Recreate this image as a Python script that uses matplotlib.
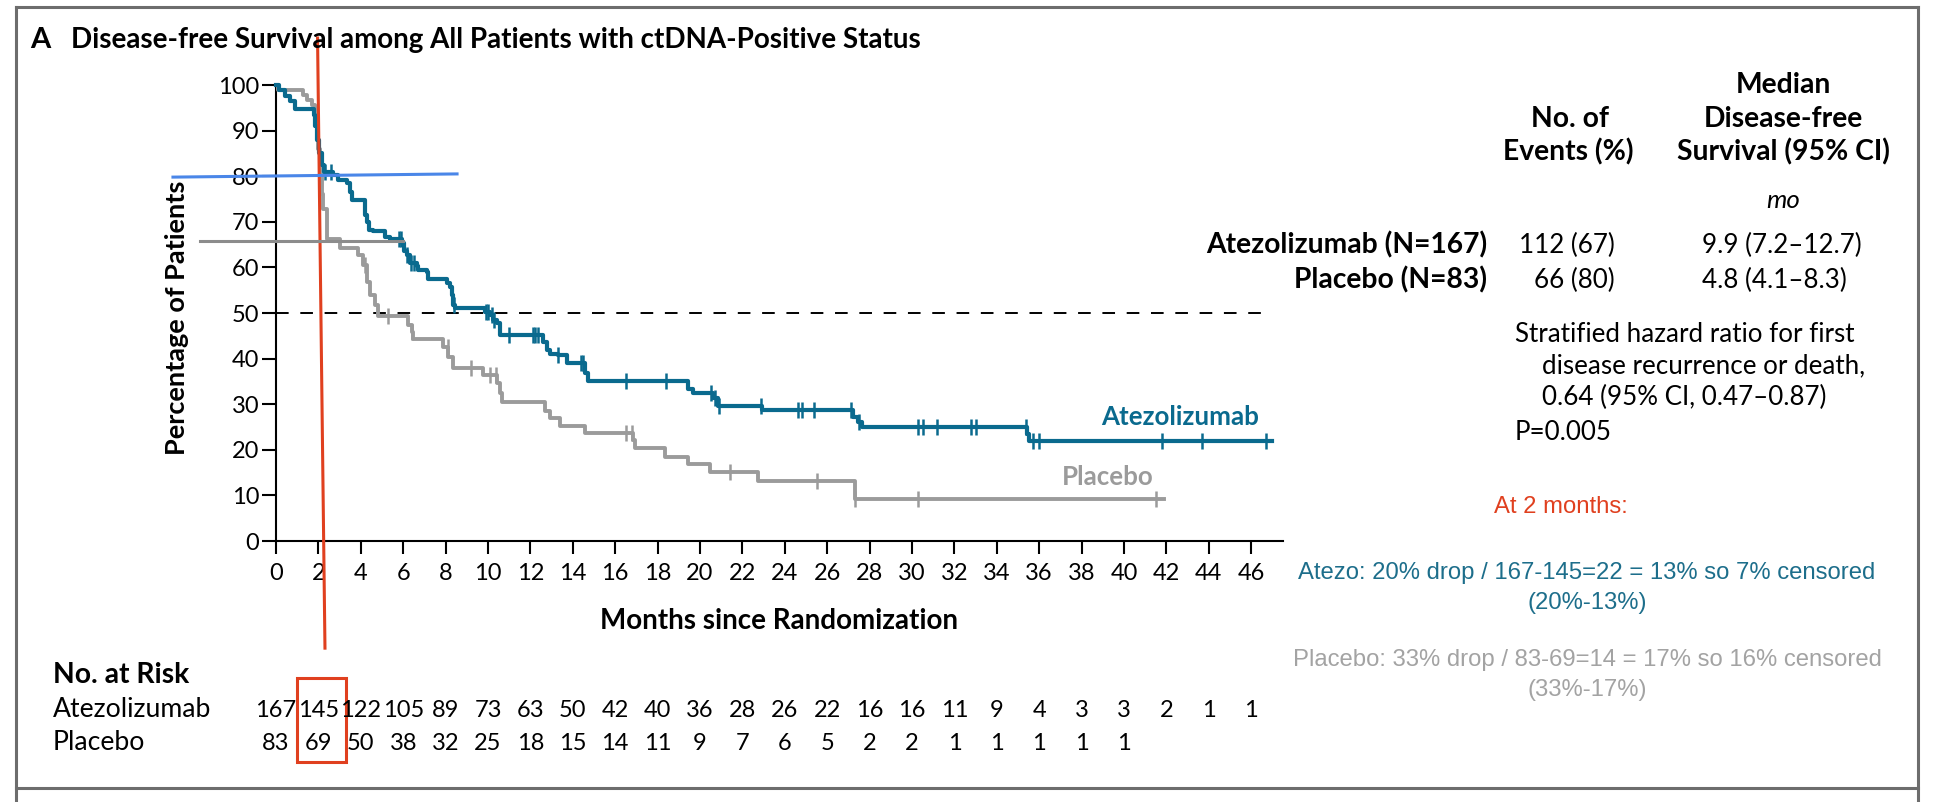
import numpy as np
import matplotlib
matplotlib.use('Agg')
import matplotlib.pyplot as plt
import matplotlib.transforms as mtransforms
from matplotlib.lines import Line2D
from matplotlib.patches import Rectangle

plt.rcParams['font.family'] = ['Lato', 'DejaVu Sans']

# Kaplan-Meier steps (months, % of patients disease-free)
atezo_t = [0, 0.15, 0.42, 0.66, 0.9, 1.78, 1.86, 1.95, 2.05, 2.15, 2.25, 2.7, 2.94, 3.33, 3.49, 3.57,
           4.22, 4.3, 4.38, 4.59, 5.14, 5.38, 5.95, 6.05, 6.16, 6.32, 6.63, 6.71, 7.11, 7.19,
           8.05, 8.21, 8.29, 8.33, 8.44, 9.86, 10.09, 10.25, 10.41, 10.57, 12.61, 12.77, 12.93,
           13.3, 13.71, 14.57, 14.73, 19.45, 19.69, 20.63, 20.87, 22.91, 27.23, 27.47, 27.62,
           35.42, 35.5]
atezo_s = [100, 99, 97.5, 96.5, 94.8, 93.5, 91, 88, 85, 82.5, 81, 80.3, 79.2, 78.4, 76.6, 74.8,
           71.5, 70, 68.2, 67.9, 66.7, 66.3, 65.3, 63.5, 62.8, 61, 60.2, 59.5, 59.1, 57.5,
           56.5, 55.8, 54, 51.8, 51.1, 50.3, 49.6, 48.5, 47.8, 45.1, 43.7, 41.9, 41.1,
           40.8, 39, 36.8, 35.1, 33.3, 32.5, 31.3, 29.7, 28.7, 27.2, 26.1, 25,
           23.5, 22]
atezo_end = 47.0
atezo_cens = [2.3, 2.6, 5.8, 5.9, 6.2, 6.35, 6.5, 8.3, 8.4, 9.9, 10.0, 10.2, 10.3, 11.0, 12.1,
              12.2, 12.35, 13.3, 14.4, 14.5, 16.5, 18.4, 20.5, 20.7, 20.9, 22.9, 24.6, 24.8,
              25.4, 27.1, 27.5, 30.3, 30.5, 31.2, 32.8, 33.0, 35.4, 35.7, 36.0, 41.8, 43.7, 46.7]

placebo_t = [0, 0.1, 1.29, 1.45, 1.68, 1.84, 1.92, 2.0, 2.08, 2.16, 2.23, 2.39, 3.02, 3.88, 4.12,
             4.28, 4.43, 4.67, 4.83, 6.24, 6.4, 6.48, 7.89, 8.13, 8.36, 9.78, 10.41, 10.57,
             10.65, 12.69, 12.93, 13.4, 14.57, 16.86, 16.93, 18.35, 19.45, 20.48, 22.75, 27.3]
placebo_s = [100, 98.9, 97.8, 96.7, 95.6, 94.9, 90, 86, 80.3, 76, 72.9, 66.2, 64.2, 62.7, 60.5,
             56.8, 53.9, 51.7, 49.4, 47.3, 45.9, 44.4, 42.6, 40.4, 37.9, 36.4, 34.6, 32.4,
             30.4, 28.6, 26.9, 25.2, 23.7, 22.2, 20.3, 18.5, 16.8, 15.2, 13.2, 9.3]
placebo_end = 41.9
placebo_cens = [4.2, 5.3, 6.4, 8.1, 9.2, 10.1, 10.4, 16.5, 16.8, 21.4, 25.5, 27.3, 30.3, 41.5]

risk_months = list(range(0, 47, 2))
risk_atezo = [167, 145, 122, 105, 89, 73, 63, 50, 42, 40, 36, 28, 26, 22, 16, 16, 11, 9, 4, 3, 3, 2, 1, 1]
risk_placebo = [83, 69, 50, 38, 32, 25, 18, 15, 14, 11, 9, 7, 6, 5, 2, 2, 1, 1, 1, 1, 1]

# reader's annotations drawn over the chart (data coords)
red_line_x = [1.96, 2.31]
red_line_y = [110.3, -23.5]
blue_line_x = [-4.86, 8.54]
blue_line_y = [79.8, 80.5]
gray_line_x = [-3.58, 5.99]
gray_line_y = [65.8, 65.8]

BLUE = '#0a6a8e'
GRAY = '#9b9b9b'
RED = '#e0401f'

W, H = 1934, 802
fig = plt.figure(figsize=(W / 100, H / 100), dpi=100)


def fx(x):
    return x / W


def fy(y):
    return 1 - y / H


ax = fig.add_axes([fx(276), fy(541), 1007 / W, 456 / H])
ax.set_xlim(0, 1007 / 21.2)
ax.set_ylim(0, 100)
for s in ['top', 'right']:
    ax.spines[s].set_visible(False)
for s in ['left', 'bottom']:
    ax.spines[s].set_linewidth(1.5)
ax.set_xticks(risk_months)
ax.set_yticks(range(0, 101, 10))
ax.tick_params(axis='x', length=9, width=1.5, pad=7, labelsize=17)
ax.tick_params(axis='y', length=10, width=1.5, pad=2, labelsize=17)


def km(t, s, end, cens, color, lw):
    tt = list(t) + [end]
    ss = list(s) + [s[-1]]
    ax.step(tt, ss, where='post', color=color, lw=lw, clip_on=False, zorder=3)
    idx = np.searchsorted(t, cens, side='right') - 1
    cv = np.array(s)[idx]
    ax.plot(cens, cv, ls='none', marker='|', ms=11, mew=1.8, color=color, clip_on=False, zorder=3)


ax.plot([0, 46.7], [50, 50], color='black', lw=1.4, dashes=(6.5, 6), zorder=1)
km(placebo_t, placebo_s, placebo_end, placebo_cens, GRAY, 2.8)
km(atezo_t, atezo_s, atezo_end, atezo_cens, BLUE, 3.0)

ax.text(46.37, 27.2, 'Atezolizumab', color=BLUE, fontsize=18.6, fontweight='bold', ha='right', va='center')
ax.text(41.4, 14.0, 'Placebo', color=GRAY, fontsize=18.6, fontweight='bold', ha='right', va='center')

ax.set_xlabel('Months since Randomization', fontsize=20, fontweight='bold')
ax.xaxis.set_label_coords(0.5, -(621 - 541) / 456)
ax.xaxis.label.set_va('center')
ax.set_ylabel('Percentage of Patients', fontsize=19.5, fontweight='bold')
ax.yaxis.set_label_coords((177 - 276) / 1007, (541 - 318) / 456)
ax.yaxis.label.set_va('center')

# title
fig.text(fx(30), fy(48), 'A', fontsize=21, fontweight='bold', va='baseline')
fig.text(fx(71), fy(48), 'Disease-free Survival among All Patients with ctDNA-Positive Status',
         fontsize=20, fontweight='bold', va='baseline')

# right-hand table
tb = dict(fontsize=20.3, fontweight='bold', va='baseline')
fig.text(fx(1570), fy(127), 'No. of', ha='center', **tb)
fig.text(fx(1568), fy(160), 'Events (%)', ha='center', **tb)
fig.text(fx(1783), fy(93), 'Median', ha='center', **tb)
fig.text(fx(1783), fy(127), 'Disease-free', ha='center', **tb)
fig.text(fx(1783), fy(160), 'Survival (95% CI)', ha='center', **tb)
fig.text(fx(1783), fy(208), 'mo', ha='center', fontsize=18.6, style='italic', va='baseline')
fig.text(fx(1487), fy(253), 'Atezolizumab (N=167)', ha='right', **tb)
fig.text(fx(1487), fy(288), 'Placebo (N=83)', ha='right', **tb)
tr = dict(fontsize=18.7, va='baseline')
fig.text(fx(1615), fy(253), '112 (67)', ha='right', **tr)
fig.text(fx(1615), fy(288), '66 (80)', ha='right', **tr)
fig.text(fx(1702), fy(253), '9.9 (7.2–12.7)', ha='left', **tr)
fig.text(fx(1702), fy(288), '4.8 (4.1–8.3)', ha='left', **tr)
fig.text(fx(1515), fy(342), 'Stratified hazard ratio for first', ha='left', **tr)
fig.text(fx(1542), fy(373), 'disease recurrence or death,', ha='left', **tr)
fig.text(fx(1542), fy(405), '0.64 (95% CI, 0.47–0.87)', ha='left', **tr)
fig.text(fx(1515), fy(440), 'P=0.005', ha='left', **tr)

# notes
an = dict(fontsize=17.2, family=['Liberation Sans', 'DejaVu Sans'], ha='center', va='center')
fig.text(fx(1561), fy(507), 'At 2 months:', color=RED, **an)
fig.text(fx(1587), fy(573), 'Atezo: 20% drop / 167-145=22 = 13% so 7% censored', color='#1d6e8b', **an)
fig.text(fx(1587), fy(603), '(20%-13%)', color='#1d6e8b', **an)
fig.text(fx(1587), fy(660), 'Placebo: 33% drop / 83-69=14 = 17% so 16% censored', color='#a3a3a3', **an)
fig.text(fx(1587), fy(690), '(33%-17%)', color='#a3a3a3', **an)

# number at risk
trans = mtransforms.blended_transform_factory(ax.transData, fig.transFigure)
fig.text(fx(53), fy(683), 'No. at Risk', fontsize=20.3, fontweight='bold', va='baseline')
fig.text(fx(53), fy(717), 'Atezolizumab', fontsize=19.2, va='baseline')
fig.text(fx(53), fy(750), 'Placebo', fontsize=19.2, va='baseline')
for m, n in zip(risk_months, risk_atezo):
    fig.text(m, fy(717), str(n), transform=trans, fontsize=17, ha='center', va='baseline')
for m, n in zip(risk_months, risk_placebo):
    fig.text(m, fy(750), str(n), transform=trans, fontsize=17, ha='center', va='baseline')

# annotation marks
ax.plot(red_line_x, red_line_y, color=RED, lw=2.2, clip_on=False, zorder=6)
ax.plot(blue_line_x, blue_line_y, color='#4a86e8', lw=2.2, clip_on=False, zorder=6)
ax.plot(gray_line_x, gray_line_y, color='#8c8c8c', lw=2.2, clip_on=False, zorder=6)
fig.add_artist(Rectangle((0.99, fy(762)), 2.31, (762 - 678) / H, transform=trans,
                         fill=False, ec=RED, lw=2.2))

# panel frame
bc = dict(transform=fig.transFigure, color='#6d6d6d', lw=2.2)
fig.add_artist(Line2D([fx(16), fx(1918)], [fy(7), fy(7)], **bc))
fig.add_artist(Line2D([fx(16), fx(16)], [fy(7), 0], **bc))
fig.add_artist(Line2D([fx(1918), fx(1918)], [fy(7), 0], **bc))
fig.add_artist(Line2D([fx(16), fx(1918)], [fy(788), fy(788)], **bc))

fig.savefig('out.png', dpi=100)
